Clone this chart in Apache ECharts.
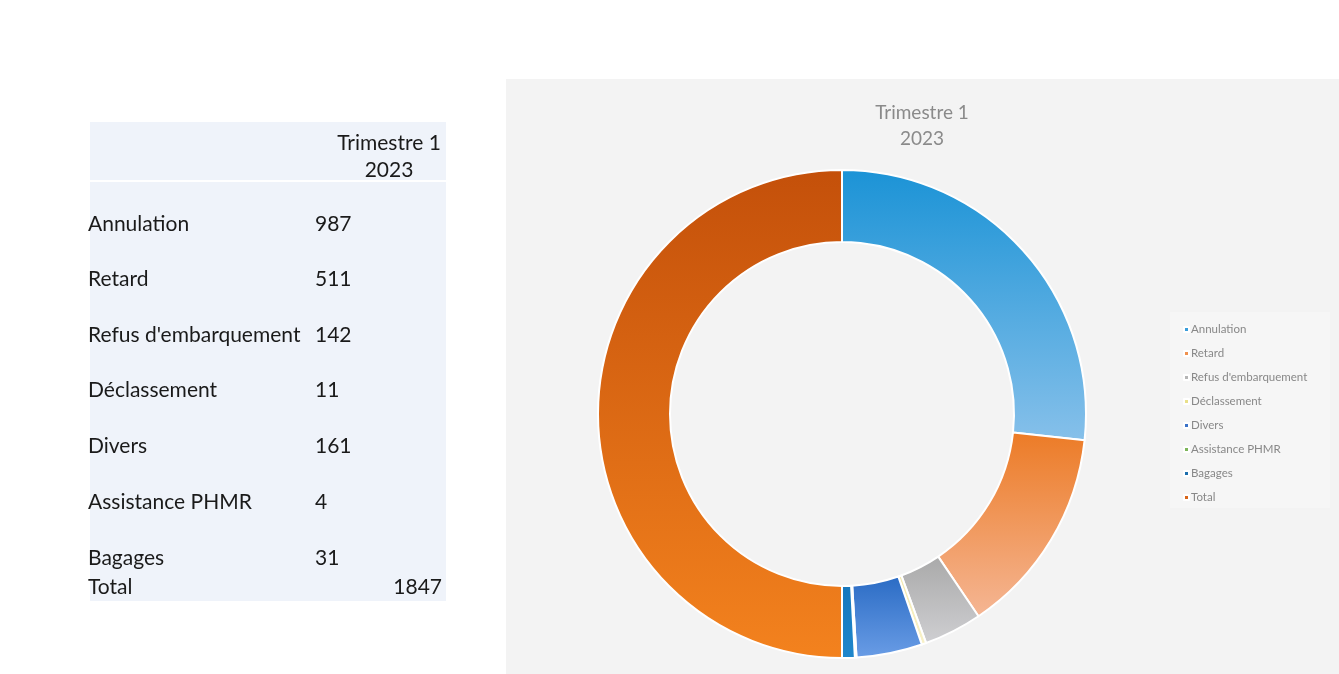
<!DOCTYPE html>
<html><head><meta charset="utf-8">
<script src="https://cdn.jsdelivr.net/npm/echarts@6/dist/echarts.min.js"></script>
<style>html,body{margin:0;padding:0;background:#fff}#c{width:1339px;height:674px}</style>
</head><body><div id="c"></div>
<script>
const categories = ['Annulation','Retard',"Refus d'embarquement",'Déclassement','Divers','Assistance PHMR','Bagages','Total'];
const values = [987, 511, 142, 11, 161, 4, 31, 1847];
const titleLines = ['Trimestre 1', '2023'];

const grad = (a, b) => new echarts.graphic.LinearGradient(0, 0, 0, 1, [{offset:0,color:a},{offset:1,color:b}]);
const fills = [
  grad('#1B93D6', '#86C0EA'),
  grad('#EC7B26', '#F5B694'),
  grad('#A9A9A9', '#CFCFD2'),
  grad('#F3E9B0', '#F8F1C8'),
  grad('#2A6BC4', '#6A9DE6'),
  grad('#6FAE46', '#8CC266'),
  grad('#1677BD', '#1F87CC'),
  grad('#C4500A', '#F3821E')
];
const legendColors = ['#3A9DDA','#F0914E','#B5B5B5','#E9E08A','#3B72C8','#7DB65A','#1C6FAE','#D8651A'];

const font = 'Lato, "Open Sans", sans-serif';
const tFont = '21px ' + font;
const graphics = [
  {type:'rect', shape:{x:506,y:79,width:833,height:595}, style:{fill:'#F3F3F3'}, z:-10},
  {type:'rect', shape:{x:1170,y:312,width:160,height:196}, style:{fill:'#F6F6F6'}, z:-9},
  {type:'rect', shape:{x:90,y:122,width:356,height:479}, style:{fill:'#EFF3FA'}, z:-10},
  {type:'rect', shape:{x:90,y:180,width:356,height:2}, style:{fill:'#FFFFFF'}, z:-9},
  {type:'text', style:{text:titleLines.join('\n'), x:389, y:130, align:'center', font:tFont, fill:'#1A1A1A', lineHeight:27}}
];
const rowY = [224, 279, 335, 390, 446, 502, 558];
for (let i = 0; i < 7; i++) {
  graphics.push({type:'text', style:{text:categories[i], x:88, y:rowY[i], verticalAlign:'middle', font:tFont, fill:'#1A1A1A'}});
  graphics.push({type:'text', style:{text:String(values[i]), x:315, y:rowY[i], verticalAlign:'middle', font:tFont, fill:'#1A1A1A'}});
}
graphics.push({type:'text', style:{text:categories[7], x:88, y:587, verticalAlign:'middle', font:tFont, fill:'#1A1A1A'}});
graphics.push({type:'text', style:{text:String(values[7]), x:442, y:587, align:'right', verticalAlign:'middle', font:tFont, fill:'#1A1A1A'}});

const chart = echarts.init(document.getElementById('c'), null, {renderer:'canvas'});
chart.setOption({
  backgroundColor:'#FFFFFF',
  animation:false,
  graphic: graphics,
  title: {
    text: titleLines.join('\n'), left: 917, top: 95, textAlign:'center',
    textStyle:{fontFamily:font, fontWeight:'normal', fontSize:19, color:'#8A8A8A', lineHeight:26}
  },
  legend: {
    orient:'vertical', left:1178, top:318, itemGap:11, itemWidth:5, itemHeight:5, icon:'rect',
    textStyle:{fontFamily:font, fontSize:11.5, color:'#888888', lineHeight:13, padding:[0,0,0,-3]},
    data: categories.map((n,i)=>({name:n, itemStyle:{color:legendColors[i]}}))
  },
  series: [{
    type:'pie', center:[842,414], radius:[172,244], startAngle:90, clockwise:true,
    label:{show:false}, labelLine:{show:false}, silent:true,
    itemStyle:{borderColor:'#FFFFFF', borderWidth:2},
    data: categories.map((n,i)=>({name:n, value:values[i], itemStyle:{color:fills[i]}}))
  }]
});
</script></body></html>
